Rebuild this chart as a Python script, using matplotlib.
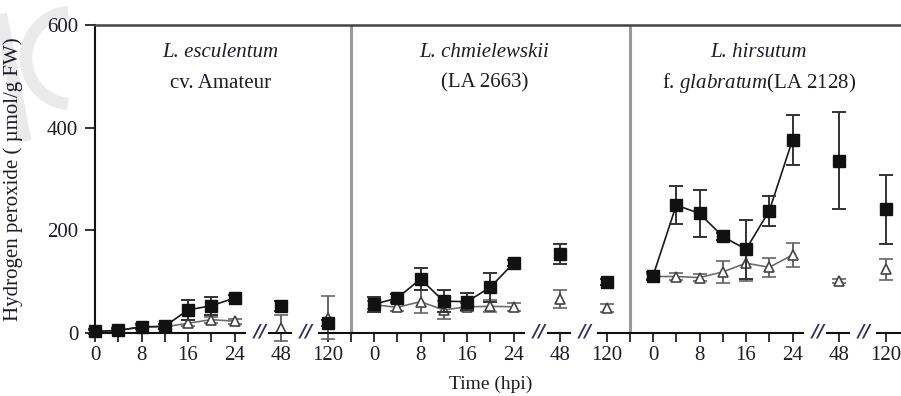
import matplotlib
matplotlib.use("Agg")
import matplotlib.pyplot as plt
import numpy as np
from matplotlib.patches import Arc
from matplotlib.lines import Line2D

plt.rcParams["font.family"] = ["Liberation Serif", "DejaVu Serif"]
plt.rcParams["mathtext.fontset"] = "custom"
plt.rcParams["mathtext.rm"] = "Liberation Serif"
plt.rcParams["mathtext.it"] = "Liberation Serif:italic"

HOURS = [0, 4, 8, 12, 16, 20, 24, 48, 120]
TICK_HOURS = [0, 8, 16, 24, 48, 120]

PANEL_TITLES = [
    ("L. esculentum", "cv. Amateur"),
    ("L. chmielewskii", "(LA 2663)"),
    ("L. hirsutum", r"f. $\it{glabratum}$(LA 2128)"),
]

# filled squares
SQ_MEAN = [
    [3, 5, 12, 13, 45, 53, 68, 52, 20],
    [56, 68, 105, 62, 61, 89, 136, 154, 100],
    [111, 249, 233, 188, 163, 238, 376, 336, 241],
]
SQ_ERR = [
    [4, 4, 5, 5, 20, 18, 6, 10, 6],
    [15, 8, 21, 22, 17, 28, 6, 20, 6],
    [8, 37, 46, 6, 57, 29, 48, 94, 67],
]
# open triangles
TRI_MEAN = [
    [3, 5, 12, 12, 19, 26, 23, 10, 30],
    [55, 50, 61, 45, 51, 52, 51, 66, 48],
    [110, 110, 108, 119, 136, 128, 152, 101, 124],
]
TRI_ERR = [
    [3, 3, 4, 4, 6, 6, 5, 26, 42],
    [8, 8, 23, 17, 8, 12, 8, 18, 8],
    [5, 6, 6, 22, 35, 18, 24, 4, 21],
]

TXT = "#1c1c2a"
FS = 15


def hour_pos(h, panel):
    # broken time axis: 4 h per unit up to 24 h, then 48 h and 120 h
    if h <= 24:
        u = h / 4
    elif h == 48:
        u = 8
    else:
        u = 10
    return u + 12 * panel


def main() -> None:
    fig = plt.figure(figsize=(9.01, 3.96), dpi=100)
    W, H = 901, 396
    x0, unit = 95.0, 23.25
    xmax = (W - x0) / unit
    ax = fig.add_axes([x0 / W, 1 - 333 / H, 1 - x0 / W, (333 - 25) / H])
    ax.set_xlim(0, xmax)
    ax.set_ylim(0, 600)

    # faint watermark remnant in the top-left corner (pixel coords, y up)
    wm = "#eaeaea"
    fig.patches.append(Arc((72, H - 58), 92, 92, theta1=95, theta2=265, lw=9, color=wm,
                           transform=None, zorder=-5))
    fig.lines.append(Line2D([2, 24], [H - 20, H - 135], lw=9, color=wm,
                            transform=None, zorder=-5))

    for p in range(3):
        early = slice(0, 7)
        xs = np.array([hour_pos(h, p) for h in HOURS])
        sq = np.array(SQ_MEAN[p])
        tri = np.array(TRI_MEAN[p])
        ax.plot(xs[early], tri[early], color="#6d6d6d", lw=1.2, zorder=2, clip_on=False)
        ax.plot(xs[early], sq[early], color="#1a1a1a", lw=1.2, zorder=3, clip_on=False)
        ax.errorbar(xs, tri, yerr=TRI_ERR[p], fmt="^", ms=7.5, mfc="white", mec="#444444",
                    mew=1.2, ecolor="#666666", elinewidth=1.4, capsize=5, capthick=1.4,
                    zorder=4, clip_on=False)
        ax.errorbar(xs, sq, yerr=SQ_ERR[p], fmt="s", ms=8, mfc="#111111", mec="#111111",
                    ecolor="#333333", elinewidth=1.4, capsize=5, capthick=1.4,
                    zorder=5, clip_on=False)

        # panel titles
        cx = [5.4, 16.75, 28.55][p]
        ax.text(cx, 547, PANEL_TITLES[p][0], ha="center", va="center", fontsize=FS,
                fontstyle="italic", color=TXT)
        ax.text(cx, 487, PANEL_TITLES[p][1], ha="center", va="center", fontsize=FS, color=TXT)

        # axis breaks
        for bx in (7.1, 9.1):
            ax.text(12 * p + bx, 3, "//", ha="center", va="center", fontsize=13,
                    family="DejaVu Sans", fontstyle="oblique", fontweight="bold",
                    color="#2e2e66", clip_on=False)

    # panel separators
    for sx in (11, 23):
        ax.axvline(sx, color="#9a9a9a", lw=2.2, zorder=1)

    # broken bottom axis line
    segs = [(0, 6.45), (7.5, 8.45), (9.65, 18.45), (19.5, 20.45), (21.65, 30.45),
            (31.5, 32.45), (33.65, xmax)]
    for a, b in segs:
        ax.plot([a, b], [0, 0], color="#111111", lw=1.5, clip_on=False, zorder=6)

    major = [hour_pos(h, p) for p in range(3) for h in TICK_HOURS]
    labels = [str(h) for p in range(3) for h in TICK_HOURS]
    minor = [hour_pos(h, p) for p in range(3) for h in (4, 12, 20)] + [11, 23]
    ax.set_xticks(major)
    ax.set_xticklabels(labels)
    ax.set_xticks(minor, minor=True)
    ax.tick_params(axis="x", which="both", direction="out", length=6.5, width=1.2,
                   color="#111111", labelsize=FS, labelcolor=TXT, pad=3)
    ax.set_yticks([0, 200, 400, 600])
    ax.tick_params(axis="y", direction="out", length=7, width=1.2, color="#111111",
                   labelsize=FS, labelcolor=TXT, pad=5)

    for side in ("right", "bottom"):
        ax.spines[side].set_visible(False)
    ax.spines["left"].set_linewidth(1.5)
    ax.spines["left"].set_color("#111111")
    ax.spines["top"].set_linewidth(1.8)
    ax.spines["top"].set_color("#444444")

    ax.set_ylabel("Hydrogen peroxide ( \u00b5mol/g FW)", fontsize=FS, color=TXT)
    ax.yaxis.set_label_coords((23 - x0) / (W - x0), 0.5)
    ax.set_xlabel("Time (hpi)", fontsize=14, color=TXT)
    ax.xaxis.set_label_coords((491 - x0) / (W - x0), -0.14)

    fig.savefig("out.png", dpi=100)
    plt.close(fig)


if __name__ == "__main__":
    main()
